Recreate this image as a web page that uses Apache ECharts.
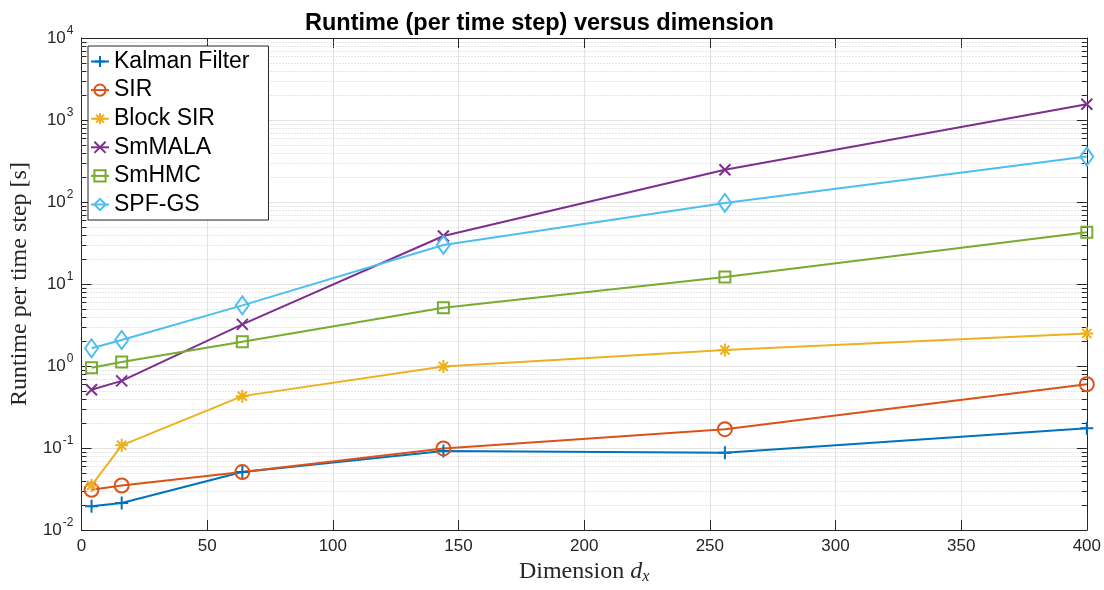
<!DOCTYPE html>
<html>
<head>
<meta charset="utf-8">
<script src="https://cdn.jsdelivr.net/npm/echarts@6/dist/echarts.min.js"></script>
<style>
  html, body { margin: 0; padding: 0; background: #ffffff; overflow: hidden; }
  #chart { width: 1104px; height: 590px; }
</style>
</head>
<body>
<div id="chart"></div>
<script>
// State dimension d_x
const dims = [4, 16, 64, 144, 256, 400];

// Runtime per time step [s] for each method
const kalmanFilter = [0.0195, 0.0214, 0.051, 0.092, 0.088, 0.174];
const sir          = [0.031, 0.035, 0.051, 0.099, 0.170, 0.60];
const blockSir     = [0.035, 0.108, 0.43, 0.99, 1.57, 2.5];
const smMala       = [0.515, 0.66, 3.22, 38.5, 248, 1560];
const smHmc        = [0.955, 1.12, 1.98, 5.15, 12.2, 42.7];
const spfGs        = [1.65, 2.08, 5.5, 30, 97.5, 358];

const seriesNames = ['Kalman Filter', 'SIR', 'Block SIR', 'SmMALA', 'SmHMC', 'SPF-GS'];

// Axis ranges
const xMin = 0, xMax = 400, xStep = 50;
const yMin = 0.01, yMax = 10000;

// Log minor grid values (2..9 within each decade)
const minorValues = [];
for (let e = -2; e < 4; e++) {
  for (let m = 2; m <= 9; m++) minorValues.push(m * Math.pow(10, e));
}

const SANS = 'Liberation Sans, Arial, Helvetica, sans-serif';
const SERIF = 'Liberation Serif, Times New Roman, serif';
const AXIS = '#262626';

// Stroke-only marker shapes
const PLUS = 'path://M0,5L10,5M5,0L5,10';
const CROSS = 'path://M0,0L10,10M0,10L10,0';
const ASTER = 'path://M0,5L10,5M5,0L5,10M1.5,1.5L8.5,8.5M1.5,8.5L8.5,1.5';

function makeSeries(name, values, color, symbol, size) {
  return {
    name: name,
    type: 'line',
    data: dims.map((d, i) => [d, values[i]]),
    color: color,
    symbol: symbol,
    symbolSize: size,
    showAllSymbol: true,
    lineStyle: { color: color, width: 2 },
    itemStyle: { color: 'rgba(255,255,255,0)', borderColor: color, borderWidth: 2 },
    z: 3
  };
}

function logLabel(v) {
  const e = Math.round(Math.log10(v));
  return '{b|10}{e|' + e + '}';
}

const chart = echarts.init(document.getElementById('chart'), null, { renderer: 'canvas' });

chart.setOption({
  animation: false,
  backgroundColor: '#ffffff',
  title: {
    text: 'Runtime (per time step) versus dimension',
    left: 300,
    top: 7,
    textStyle: { fontFamily: SANS, fontSize: 23.5, fontWeight: 'bold', color: '#000000' }
  },
  grid: { left: 80, right: 15, top: 38, bottom: 52, containLabel: false },
  legend: {
    data: seriesNames,
    orient: 'vertical',
    left: 88,
    top: 46,
    itemWidth: 18,
    itemHeight: 14,
    itemGap: 5.6,
    padding: [4, 19, 4, 2],
    backgroundColor: '#ffffff',
    borderColor: AXIS,
    borderWidth: 1,
    borderRadius: 0,
    textStyle: { fontFamily: SANS, fontSize: 23, lineHeight: 23, color: '#000000' }
  },
  xAxis: [
    {
      type: 'value',
      min: xMin, max: xMax, interval: xStep,
      name: '{n|Dimension }{d|d}{s|x}',
      nameLocation: 'middle',
      nameGap: 28,
      nameTextStyle: {
        rich: {
          n: { fontFamily: SERIF, fontSize: 24, color: '#262626' },
          d: { fontFamily: SERIF, fontSize: 24, fontStyle: 'italic', color: '#262626' },
          s: { fontFamily: SERIF, fontSize: 16, fontStyle: 'italic', color: '#262626', padding: [10, 0, 0, 0] }
        }
      },
      axisLine: { show: true, onZero: false, lineStyle: { color: AXIS, width: 1 } },
      axisTick: { show: true, inside: true, length: 10, lineStyle: { color: AXIS } },
      axisLabel: { fontFamily: SANS, fontSize: 17, color: '#262626', margin: 8 },
      splitLine: { show: true, lineStyle: { color: '#e3e3e3', width: 1 } }
    },
    {
      type: 'value',
      position: 'top',
      min: xMin, max: xMax, interval: xStep,
      axisLine: { show: true, onZero: false, lineStyle: { color: AXIS, width: 1 } },
      axisTick: { show: true, inside: true, length: 10, lineStyle: { color: AXIS } },
      axisLabel: { show: false },
      splitLine: { show: false }
    }
  ],
  yAxis: [
    {
      type: 'log',
      logBase: 10,
      min: yMin, max: yMax,
      splitNumber: 6,
      name: 'Runtime per time step [s]',
      nameLocation: 'middle',
      nameGap: 47,
      nameTextStyle: { fontFamily: SERIF, fontSize: 24, color: '#262626' },
      axisLine: { show: true, onZero: false, lineStyle: { color: AXIS, width: 1 } },
      axisTick: { show: true, inside: true, length: 10, lineStyle: { color: AXIS } },
      axisLabel: {
        margin: 8,
        formatter: logLabel,
        rich: {
          b: { fontFamily: SANS, fontSize: 17, color: '#262626' },
          e: { fontFamily: SANS, fontSize: 12, color: '#262626', padding: [0, 0, 14, 1] }
        }
      },
      splitLine: { show: true, lineStyle: { color: '#e3e3e3', width: 1 } }
    },
    {
      type: 'log',
      logBase: 10,
      position: 'right',
      min: yMin, max: yMax,
      splitNumber: 6,
      axisLine: { show: true, onZero: false, lineStyle: { color: AXIS, width: 1 } },
      axisTick: { show: true, inside: true, length: 10, lineStyle: { color: AXIS } },
      axisLabel: { show: false },
      splitLine: { show: false }
    }
  ],
  series: [
    {
      // minor log grid lines plus minor ticks on both vertical axes
      name: 'minor',
      type: 'custom',
      silent: true,
      z: 1,
      clip: false,
      data: minorValues.map(v => [xMin, v]),
      renderItem: function (params, api) {
        const v = api.value(1);
        const a = api.coord([xMin, v]);
        const b = api.coord([xMax, v]);
        const y = Math.round(a[1]) + 0.5;
        return {
          type: 'group',
          children: [
            { type: 'line', shape: { x1: a[0], y1: y, x2: b[0], y2: y },
              style: { stroke: '#cfcfcf', lineWidth: 1, lineDash: [1, 2] } },
            { type: 'line', shape: { x1: a[0], y1: y, x2: a[0] + 5, y2: y },
              style: { stroke: AXIS, lineWidth: 1 } },
            { type: 'line', shape: { x1: b[0] - 5, y1: y, x2: b[0], y2: y },
              style: { stroke: AXIS, lineWidth: 1 } }
          ]
        };
      }
    },
    makeSeries('Kalman Filter', kalmanFilter, '#0072BD', PLUS, 13),
    makeSeries('SIR', sir, '#D95319', 'circle', 14),
    makeSeries('Block SIR', blockSir, '#EDB120', ASTER, 13),
    makeSeries('SmMALA', smMala, '#7E2F8E', CROSS, 11),
    makeSeries('SmHMC', smHmc, '#77AC30', 'rect', 11),
    makeSeries('SPF-GS', spfGs, '#4DBEEE', 'diamond', [13, 18])
  ]
});
</script>
</body>
</html>
